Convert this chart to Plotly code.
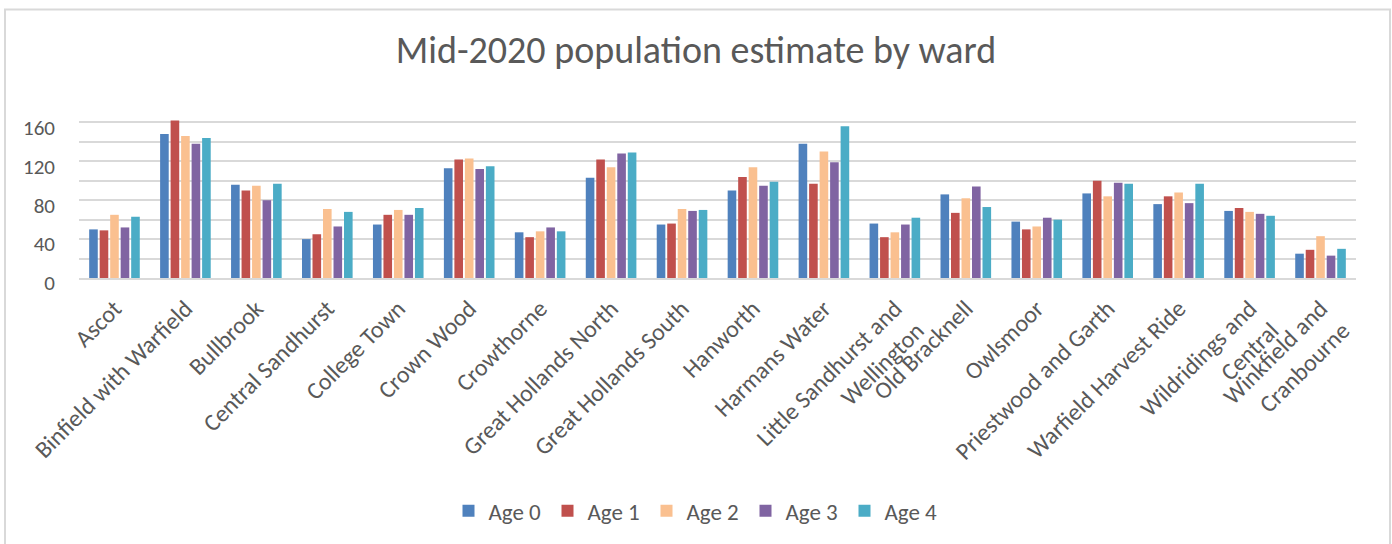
import plotly.graph_objects as go

wards = ["Ascot", "Binfield with Warfield", "Bullbrook", "Central Sandhurst", "College Town",
         "Crown Wood", "Crowthorne", "Great Hollands North", "Great Hollands South", "Hanworth",
         "Harmans Water", "Little Sandhurst and<br>Wellington", "Old Bracknell", "Owlsmoor",
         "Priestwood and Garth", "Warfield Harvest Ride", "Wildridings and<br>Central",
         "Winkfield and<br>Cranbourne"]

age0 = [50, 148, 96, 40, 55, 113, 47, 103, 55, 90, 138, 56, 86, 58, 87, 76, 69, 25]
age1 = [49, 162, 90, 45, 65, 122, 42, 122, 56, 104, 97, 42, 67, 50, 100, 84, 72, 29]
age2 = [65, 146, 95, 71, 70, 123, 48, 114, 71, 114, 130, 47, 82, 53, 84, 88, 68, 43]
age3 = [52, 138, 80, 53, 65, 112, 52, 128, 69, 95, 119, 55, 94, 62, 98, 77, 66, 23]
age4 = [63, 144, 97, 68, 72, 115, 48, 129, 70, 99, 156, 62, 73, 60, 97, 97, 64, 30]

series_names = ["Age 0", "Age 1", "Age 2", "Age 3", "Age 4"]
series_values = [age0, age1, age2, age3, age4]
colors = ["#4F81BD", "#C0504D", "#FAC090", "#8064A2", "#4BACC6"]

FONT = "Carlito, Lato, sans-serif"
TXT = "#595959"

fig = go.Figure()
for name, vals, c in zip(series_names, series_values, colors):
    fig.add_trace(go.Bar(name=name, x=wards, y=vals, marker=dict(color=c, line=dict(width=0))))

fig.update_layout(
    width=1392, height=544,
    margin=dict(l=79, r=36, t=103, b=262),
    paper_bgcolor="white", plot_bgcolor="white",
    barmode="group", bargap=0.26, bargroupgap=0.18,
    font=dict(family=FONT, color=TXT),
    title=dict(text="Mid-2020 population estimate by ward", x=0.5, xanchor="center",
               y=1 - 50 / 544, yanchor="middle", xref="container",
               font=dict(size=38, color=TXT, family=FONT)),
    legend=dict(orientation="h", x=(696 - 79) / 1277, xanchor="center", y=-1.33, yanchor="middle",
                font=dict(size=23, color=TXT), itemwidth=30, traceorder="normal",
                entrywidth=54, entrywidthmode="pixels"),
    showlegend=True,
)
fig.update_xaxes(tickangle=-45, tickfont=dict(size=24, color=TXT), showgrid=False,
                 showline=True, linecolor="#d9d9d9", linewidth=2, ticks="",
                 ticklabelstandoff=5)
fig.update_yaxes(range=[0, 180], dtick=40, tick0=0, tickfont=dict(size=21, color=TXT),
                 showgrid=True, gridcolor="#d9d9d9", gridwidth=2, zeroline=False,
                 showline=False, ticks="", ticklabelstandoff=23, ticklabelshift=5,
                 minor=dict(dtick=20, showgrid=True, gridcolor="#d9d9d9", gridwidth=2))
fig.add_shape(type="rect", xref="paper", yref="paper",
              x0=(5 - 79) / 1277, x1=(1390 - 79) / 1277,
              y0=(282 - 560) / 179.3, y1=(282 - 7) / 179.3,
              line=dict(color="#d9d9d9", width=2), fillcolor="rgba(0,0,0,0)", layer="below")

fig.write_html("out.html")
